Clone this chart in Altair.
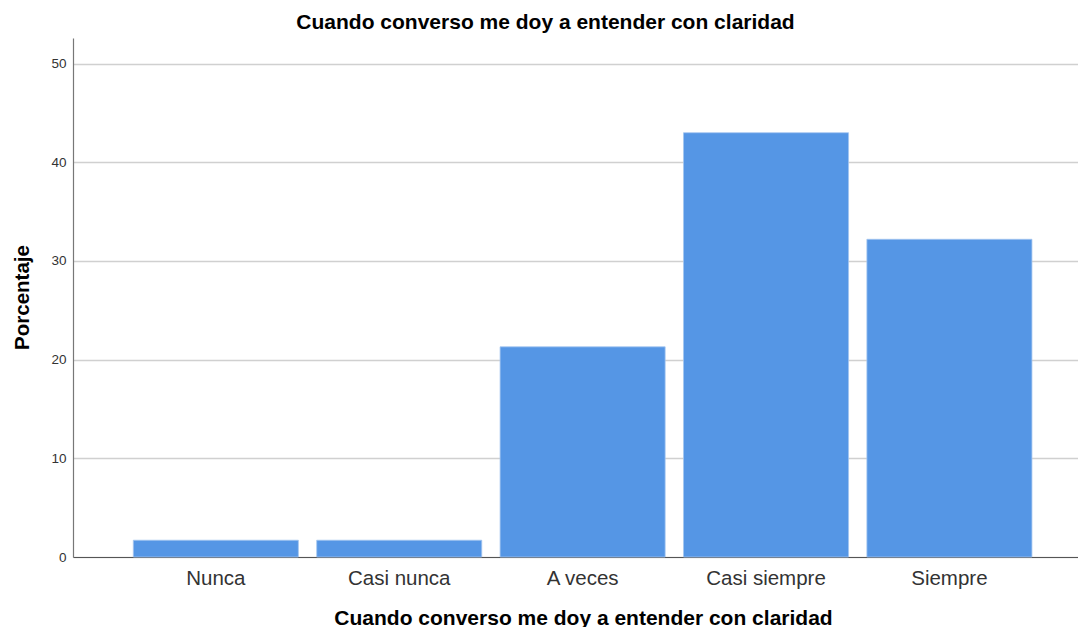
import altair as alt
import pandas as pd

categories = ["Nunca", "Casi nunca", "A veces", "Casi siempre", "Siempre"]
percentages = [1.7, 1.7, 21.3, 43.0, 32.2]
y_ticks = [0, 10, 20, 30, 40, 50]

title_text = "Cuando converso me doy a entender con claridad"
y_title = "Porcentaje"

df = pd.DataFrame({"cat": categories, "pct": percentages})

FONT = "Liberation Sans"

chart = (
    alt.Chart(df)
    .mark_bar(color="#5596e5", stroke="#a3c5f0", strokeWidth=0.8)
    .encode(
        x=alt.X(
            "cat:N",
            sort=categories,
            scale=alt.Scale(paddingInner=0.1, paddingOuter=0.29, align=0.567),
            axis=alt.Axis(
                title=title_text,
                labelAngle=0,
                labelFont=FONT,
                labelFontSize=20.5,
                labelColor="#333333",
                labelPadding=11,
                ticks=False,
                tickSize=0,
                domainColor="#555555",
                domainWidth=1.2,
                grid=False,
                titleFont=FONT,
                titleFontSize=21,
                titleFontWeight="bold",
                titleColor="#000000",
                titleBaseline="alphabetic",
                titleAlign="center",
                titleX=510,
                titleY=67,
            ),
        ),
        y=alt.Y(
            "pct:Q",
            scale=alt.Scale(domain=[0, 52.6], nice=False, zero=True),
            axis=alt.Axis(
                title=y_title,
                values=y_ticks,
                labelFont=FONT,
                labelFontSize=13.5,
                labelColor="#333333",
                labelPadding=7,
                ticks=False,
                tickSize=0,
                domainColor="#777777",
                domainWidth=1.2,
                grid=True,
                gridColor="#d0d0d0",
                gridWidth=1.5,
                titleFont=FONT,
                titleFontSize=20.5,
                titleFontWeight="bold",
                titleColor="#000000",
                titleAngle=-90,
                titleBaseline="alphabetic",
                titleAlign="center",
                titleX=-45,
                titleY=259,
            ),
        ),
    )
    .properties(
        width=1005,
        height=519,
        background="#ffffff",
        autosize=alt.AutoSizeParams(type="none"),
        padding={"left": 65, "top": 30, "right": 0, "bottom": 70},
        title=alt.TitleParams(
            text=title_text,
            font=FONT,
            fontSize=21,
            fontWeight="bold",
            color="#000000",
            anchor="middle",
            dx=-30,
            offset=5,
        ),
    )
    .configure_view(strokeWidth=0, stroke="transparent")
)

chart.save("out.html", embed_options={"renderer": "svg", "actions": False})
